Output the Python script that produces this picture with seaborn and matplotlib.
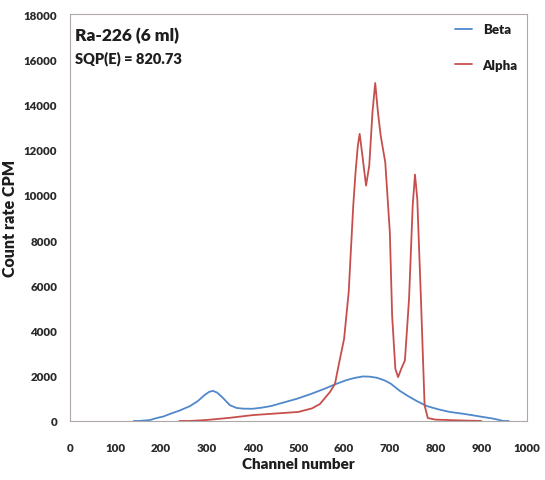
import matplotlib
matplotlib.use("Agg")
import matplotlib.pyplot as plt
import seaborn as sns
import pandas as pd

# Beta spectrum (channel, count rate in CPM)
beta_channel = [140, 150, 175, 190, 205, 219, 240, 263, 280, 295, 305, 313, 322, 335, 350, 365,
                380, 400, 420, 440, 468, 498, 528, 558, 580, 604, 622, 641, 656, 672, 688, 702,
                722, 740, 760, 781, 805, 831, 860, 885, 904, 922, 936, 948, 960]
beta_cpm = [0, 0, 40, 130, 200, 310, 460, 660, 880, 1150, 1290, 1330, 1260, 1020, 700, 575,
            545, 540, 590, 660, 820, 990, 1200, 1430, 1620, 1800, 1900, 1970, 1960, 1910, 1800, 1650,
            1330, 1100, 870, 660, 520, 400, 320, 240, 175, 120, 60, 0, 0]

# Alpha spectrum (channel, count rate in CPM)
alpha_channel = [240, 262, 300, 350, 400, 450, 500, 530, 547, 569, 580, 588, 600, 610, 620, 625,
                 630, 634, 640, 648, 655, 662, 668, 674, 680, 690, 700, 705, 712, 718, 725, 733,
                 742, 750, 755, 760, 768, 776, 783, 800, 830, 860, 900]
alpha_cpm = [0, 0, 45, 140, 260, 330, 400, 560, 750, 1280, 1640, 2460, 3640, 5700, 9530, 11000,
             12180, 12700, 11740, 10410, 11300, 13650, 14950, 13650, 12620, 11440, 8340, 4670, 2310, 1940, 2310, 2680,
             5400, 9530, 10900, 9820, 5400, 690, 130, 60, 40, 20, 0]

series_names = ["Beta", "Alpha"]
series_colors = ["#5088cb", "#c64f4c"]

df = pd.concat([
    pd.DataFrame({"channel": beta_channel, "cpm": beta_cpm, "series": series_names[0]}),
    pd.DataFrame({"channel": alpha_channel, "cpm": alpha_cpm, "series": series_names[1]}),
], ignore_index=True)

sns.set_theme(style="white")
plt.rcParams["font.family"] = ["Lato", "DejaVu Sans"]

fig = plt.figure(figsize=(5.45, 4.81), dpi=100)
ax = fig.add_axes([0.128, 0.1227, 0.839, 0.846])

sns.lineplot(data=df, x="channel", y="cpm", hue="series", hue_order=series_names,
             palette=series_colors, estimator=None, sort=False, linewidth=1.3, ax=ax)

ax.set_xlim(0, 1000)
ax.set_ylim(0, 18000)
ax.set_xticks(range(0, 1001, 100))
ax.set_yticks(range(0, 18001, 2000))

for side in ["left", "bottom", "right", "top"]:
    ax.spines[side].set_color("#b0a8a8")
    ax.spines[side].set_linewidth(0.8)

ax.tick_params(axis="both", which="major", direction="out", length=3, width=0.8,
               color="#a09898", labelsize=8.3, labelcolor="#2a2a2a", pad=6)
ax.tick_params(axis="x", pad=12)
for lbl in ax.get_xticklabels() + ax.get_yticklabels():
    lbl.set_fontweight("heavy")

ax.set_xlabel("Channel number", fontsize=11, fontweight="heavy", color="#1e1e1e", labelpad=3)
ax.set_ylabel("Count rate CPM", fontsize=11.5, fontweight="heavy", color="#1e1e1e", labelpad=4)

ax.text(0.012, 0.968, "Ra-226 (6 ml)", transform=ax.transAxes, fontsize=12.5,
        fontweight="heavy", color="#1e1e1e", va="top", ha="left")
ax.text(0.012, 0.91, "SQP(E) = 820.73", transform=ax.transAxes, fontsize=10.5,
        fontweight="heavy", color="#1e1e1e", va="top", ha="left")

leg = ax.legend(loc="upper right", frameon=False, handlelength=1.3, labelspacing=1.8,
                handletextpad=0.8, fontsize=9.5, borderaxespad=0.3)
for txt in leg.get_texts():
    txt.set_fontweight("heavy")
    txt.set_color("#1e1e1e")

fig.savefig("out.png", dpi=100, facecolor="white")
